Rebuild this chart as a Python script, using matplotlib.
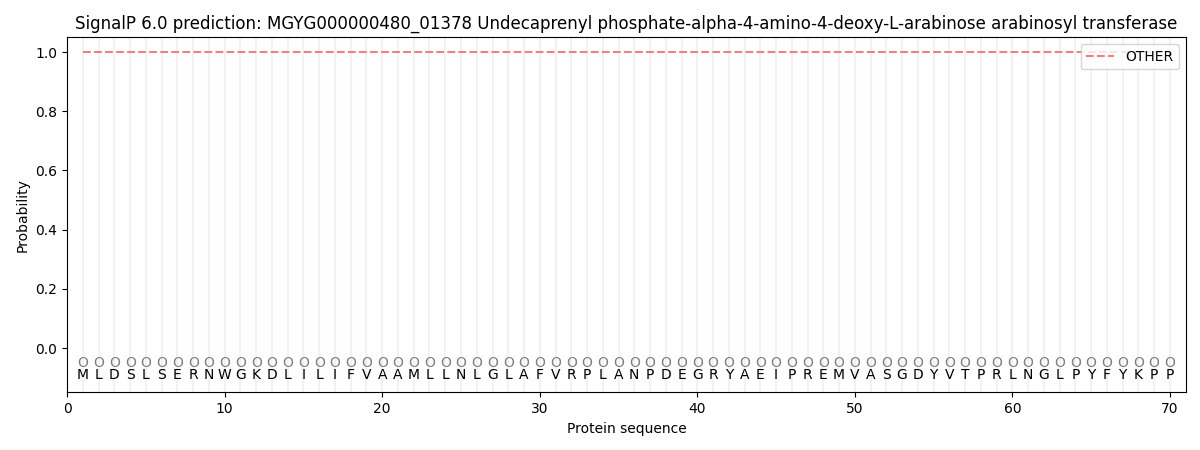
import matplotlib
matplotlib.use("Agg")
import matplotlib.pyplot as plt
import numpy as np

title = "SignalP 6.0 prediction: MGYG000000480_01378 Undecaprenyl phosphate-alpha-4-amino-4-deoxy-L-arabinose arabinosyl transferase"
sequence = list("MLDSLSERNWGKDLILIFVAAMLLNLGLAFVRPLANPDEGRYAEIPREMVASGDYVTPRLNGLPYFYKPP")
labels = ["O"] * len(sequence)
other_prob = [1.0] * len(sequence)

positions = np.arange(1, len(sequence) + 1)

fig, ax = plt.subplots(figsize=(12, 4.5), dpi=100)
for p in positions:
    ax.axvline(p, color="#f2f2f2", linewidth=1.5, zorder=0)
ax.plot(positions, other_prob, color="#f08080", linestyle="--", linewidth=1.5, label="OTHER")
for p, aa, lab in zip(positions, sequence, labels):
    ax.text(p, -0.05, lab, ha="center", va="center", fontsize=10, color="gray")
    ax.text(p, -0.09, aa, ha="center", va="center", fontsize=10, color="black")
ax.set_xlim(0, 71)
ax.set_ylim(-0.15, 1.05)
ax.set_xlabel("Protein sequence")
ax.set_ylabel("Probability")
ax.set_title(title)
ax.legend(loc="upper right")
fig.subplots_adjust(left=0.056, right=0.988, top=0.917, bottom=0.128)
fig.savefig("out.png", dpi=100)
